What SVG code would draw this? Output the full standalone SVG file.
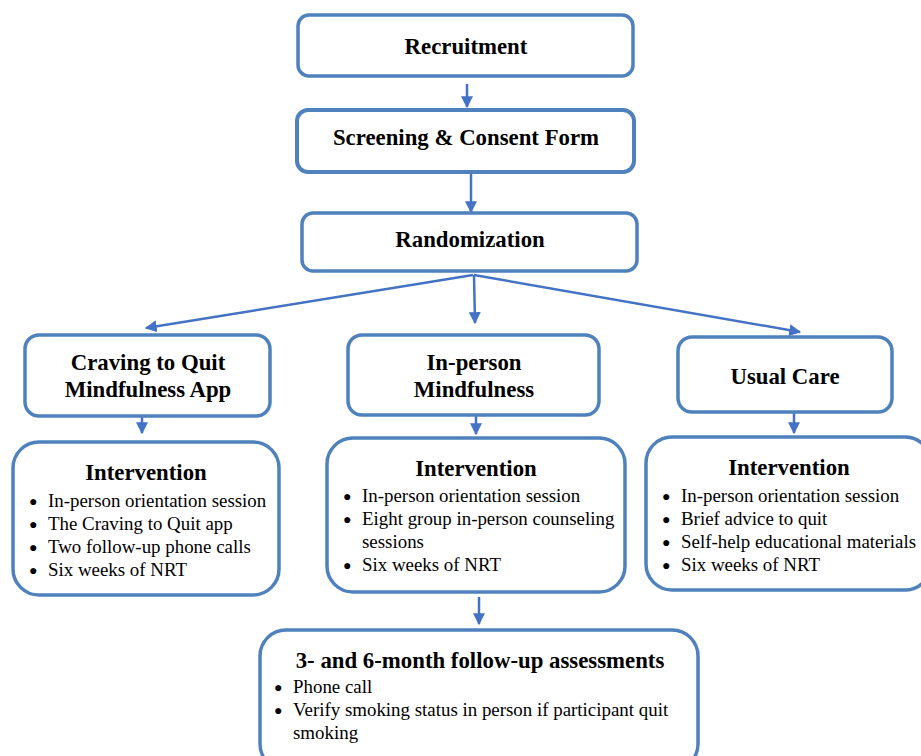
<svg xmlns="http://www.w3.org/2000/svg" width="921" height="756" viewBox="0 0 921 756">
<defs>
<marker id="ah" viewBox="0 0 10 10" refX="9" refY="5" markerWidth="4.8" markerHeight="4.8" orient="auto" markerUnits="strokeWidth">
<path d="M0,0 L10,5 L0,10 z" fill="#4472C4"/>
</marker>
</defs>
<style>
.box{fill:#fff;stroke:#4F81BD;stroke-width:3.5}
.h{font-family:"Liberation Serif","Times New Roman",serif;font-weight:bold;font-size:22.8px;fill:#000;text-anchor:middle}
.t{font-family:"Liberation Serif","Times New Roman",serif;font-size:18.9px;fill:#000}
.b{font-family:"Liberation Serif","Times New Roman",serif;font-size:14px;fill:#000}
.c{stroke:#4472C4;stroke-width:2.5;fill:none;marker-end:url(#ah)}
</style>
<rect width="921" height="756" fill="#fff"/>
<g id="connectors">
<line class="c" x1="467" y1="84" x2="467" y2="107"/>
<line class="c" x1="471" y1="173" x2="471" y2="212"/>
<line class="c" x1="473" y1="275" x2="146" y2="328"/>
<line class="c" x1="474" y1="275" x2="475" y2="323"/>
<line class="c" x1="474" y1="275" x2="800" y2="332"/>
<line class="c" x1="142" y1="405" x2="142" y2="433"/>
<line class="c" x1="476" y1="405" x2="476" y2="434"/>
<line class="c" x1="794" y1="406" x2="794" y2="433"/>
<line class="c" x1="479" y1="597" x2="479" y2="624"/>
</g>
<g id="recruitment">
<rect class="box" x="298" y="15" width="335" height="61" rx="11"/>
<text class="h" x="466" y="54">Recruitment</text>
</g>
<g id="screening">
<rect class="box" x="297" y="110" width="337" height="62" rx="11" style="stroke-width:4"/>
<text class="h" x="466" y="145">Screening &amp; Consent Form</text>
</g>
<g id="randomization">
<rect class="box" x="302" y="213" width="335" height="58" rx="11"/>
<text class="h" x="470" y="247">Randomization</text>
</g>
<g id="craving">
<rect class="box" x="25" y="335" width="245" height="81" rx="14"/>
<text class="h" x="148" y="370">Craving to Quit</text>
<text class="h" x="148" y="397">Mindfulness App</text>
</g>
<g id="inperson">
<rect class="box" x="348" y="335" width="251" height="80" rx="14"/>
<text class="h" x="474" y="370">In-person</text>
<text class="h" x="474" y="397">Mindfulness</text>
</g>
<g id="usualcare">
<rect class="box" x="678" y="337" width="214" height="75" rx="14"/>
<text class="h" x="785" y="384">Usual Care</text>
</g>
<g id="intervention1">
<rect class="box" x="13" y="442" width="266" height="153" rx="26"/>
<text class="h" x="146" y="480">Intervention</text>
<text class="b" x="29" y="506">●</text><text class="t" x="48" y="507">In-person orientation session</text>
<text class="b" x="29" y="529">●</text><text class="t" x="48" y="530">The Craving to Quit app</text>
<text class="b" x="29" y="552">●</text><text class="t" x="48" y="553">Two follow-up phone calls</text>
<text class="b" x="29" y="575">●</text><text class="t" x="48" y="576">Six weeks of NRT</text>
</g>
<g id="intervention2">
<rect class="box" x="327" y="438" width="298" height="154" rx="26"/>
<text class="h" x="476" y="476">Intervention</text>
<text class="b" x="343" y="501">●</text><text class="t" x="362" y="502">In-person orientation session</text>
<text class="b" x="343" y="524">●</text><text class="t" x="362" y="525">Eight group in-person counseling</text>
<text class="t" x="362" y="548">sessions</text>
<text class="b" x="343" y="570">●</text><text class="t" x="362" y="571">Six weeks of NRT</text>
</g>
<g id="intervention3">
<rect class="box" x="646" y="437" width="285" height="153" rx="26"/>
<text class="h" x="789" y="475">Intervention</text>
<text class="b" x="662" y="501">●</text><text class="t" x="681" y="502">In-person orientation session</text>
<text class="b" x="662" y="524">●</text><text class="t" x="681" y="525">Brief advice to quit</text>
<text class="b" x="662" y="547">●</text><text class="t" x="681" y="548">Self-help educational materials</text>
<text class="b" x="662" y="570">●</text><text class="t" x="681" y="571">Six weeks of NRT</text>
</g>
<g id="followup">
<rect class="box" x="260" y="630" width="438" height="140" rx="26"/>
<text class="h" x="480" y="668">3- and 6-month follow-up assessments</text>
<text class="b" x="274" y="692">●</text><text class="t" x="293" y="693">Phone call</text>
<text class="b" x="274" y="715">●</text><text class="t" x="293" y="716">Verify smoking status in person if participant quit</text>
<text class="t" x="293" y="739">smoking</text>
</g>
</svg>
